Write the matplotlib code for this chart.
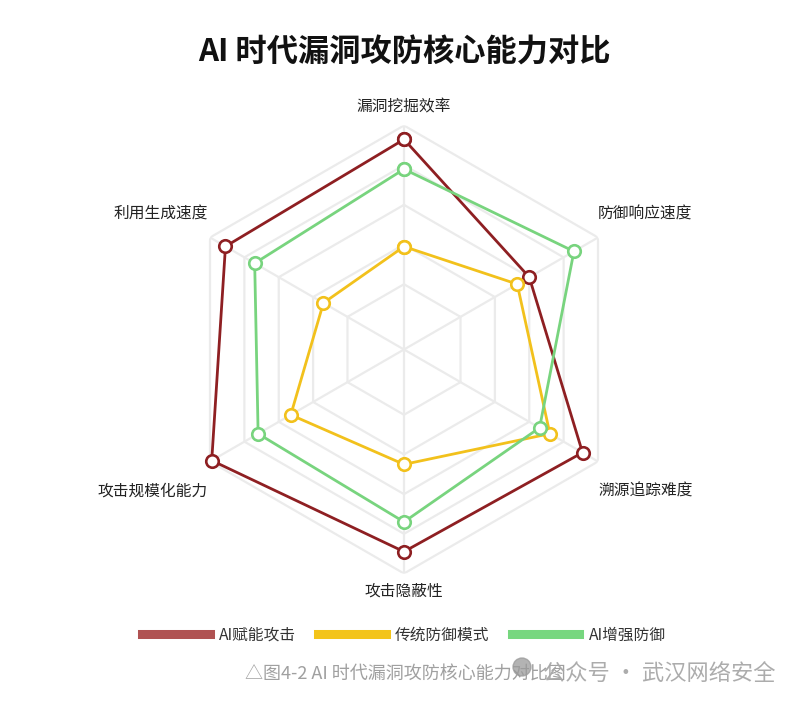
import matplotlib
matplotlib.use("Agg")
import matplotlib.pyplot as plt
import numpy as np
from matplotlib.lines import Line2D
from matplotlib.patches import Ellipse

plt.rcParams['font.family'] = ['Noto Sans CJK SC', 'DejaVu Sans']

# clockwise from the top
categories = ['漏洞挖掘效率', '防御响应速度', '溯源追踪难度', '攻击隐蔽性', '攻击规模化能力', '利用生成速度']
series_names = ['AI赋能攻击', '传统防御模式', 'AI增强防御']
ai_attack = [93, 60, 91, 89, 99, 91]
traditional = [39, 53, 72, 45, 53, 34]
ai_defense = [78, 86, 66, 74, 72, 74]
levels = [20, 40, 60, 80, 100]

line_colors = ['#8e1f22', '#f2c11c', '#78d47e']
legend_colors = ['#b05252', '#f3c41a', '#77d77f']

W, H = 798, 705
fig = plt.figure(figsize=(W / 100, H / 100), dpi=100)

# radar centre (404, 349.5) px, outer radius 224 px
cx, cy, R = 404, 349.5, 224
ax = fig.add_axes([(cx - R) / W, (H - cy - R) / H, 2 * R / W, 2 * R / H], projection='polar')
ax.set_theta_offset(np.pi / 2)
ax.set_theta_direction(-1)
rmin = -12.9
ax.set_ylim(rmin, 100)
ax.set_axis_off()

n = len(categories)
angles = np.linspace(0, 2 * np.pi, n, endpoint=False)
closed = np.append(angles, angles[0])

for lv in levels:
    ax.plot(closed, [lv] * (n + 1), color='#ebebeb', lw=1.6, zorder=1)
for a in angles:
    ax.plot([a, a], [rmin, 100], color='#ebebeb', lw=1.6, zorder=1)

for vals, col in [(ai_attack, line_colors[0]), (traditional, line_colors[1]), (ai_defense, line_colors[2])]:
    v = np.append(vals, vals[0])
    ax.plot(closed, v, color=col, lw=2.0, marker='o', markersize=9,
            mfc='white', mec=col, mew=1.9, zorder=3, clip_on=False)

# axis names (offsets in points)
offs = [((0, 13), 'center'), ((0, 17), 'left'), ((0, -21), 'left'),
        ((0, -13), 'center'), ((-1.5, -21), 'right'), ((-1.5, 17), 'right')]
for a, name, (off, ha) in zip(angles, categories, offs):
    ax.annotate(name, xy=(a, 100), xytext=off, textcoords='offset points',
                ha=ha, va='center', fontsize=11.3, color='#222222', annotation_clip=False)

fig.text(cx / W, 1 - 53 / H, 'AI 时代漏洞攻防核心能力对比', ha='center', va='center',
         fontsize=22.5, fontweight='bold', color='#111111')

handles = [Line2D([0], [0], color=c, lw=6.5) for c in legend_colors]
fig.legend(handles, series_names, loc='center', bbox_to_anchor=(cx / W, 1 - 635 / H),
           ncol=3, frameon=False, fontsize=11.3, handlelength=4.3, handletextpad=0.6,
           columnspacing=1.4, labelcolor='#333333')

fig.text(245 / W, 1 - 675 / H, '△图4-2 AI 时代漏洞攻防核心能力对比图', ha='left', va='center',
         fontsize=13, color='#a0a0a0')
fig.add_artist(Ellipse((522 / W, 1 - 667 / H), 18 / W, 18 / H, transform=fig.transFigure,
                       color='#9a9a9a', alpha=0.75, zorder=5))
fig.text(543 / W, 1 - 673 / H, '公众号 · 武汉网络安全', ha='left', va='center',
         fontsize=16, color='#a8a8a8', alpha=0.95, zorder=6)

fig.savefig('out.png', dpi=100)
